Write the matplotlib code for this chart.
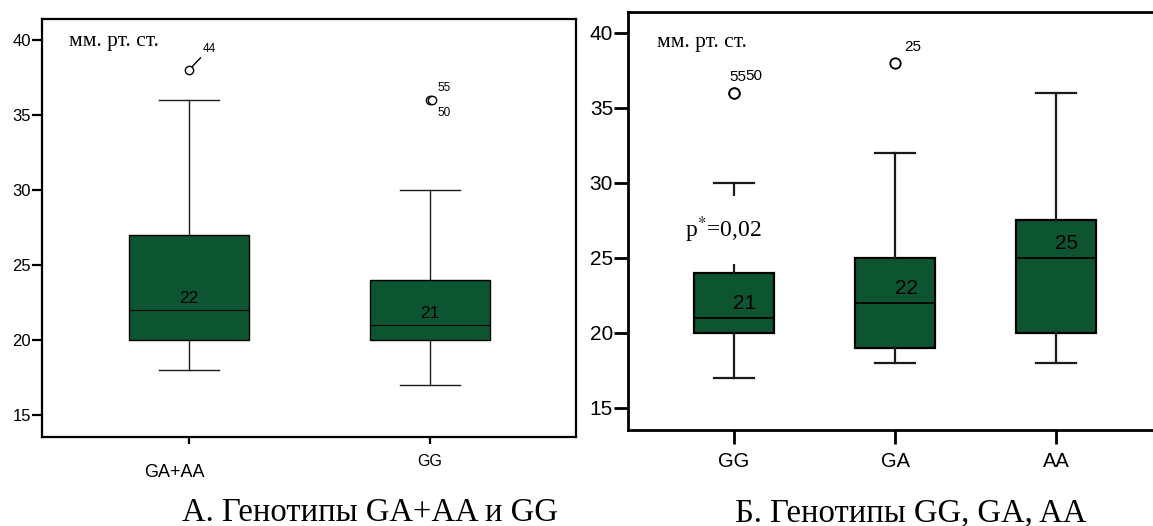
import matplotlib
matplotlib.use("Agg")
import matplotlib.pyplot as plt
from matplotlib.transforms import ScaledTranslation

SANS = "Liberation Sans"
SERIF = "Liberation Serif"
plt.rcParams["mathtext.fontset"] = "stix"

BOX_GREEN = "#0c5530"
WHISKER = "#1a1a1a"

# Panel A: GA+AA vs GG
a_groups = ["GA+AA", "GG"]
a_whislo = [18, 17]
a_q1 = [20, 20]
a_med = [22, 21]
a_q3 = [27, 24]
a_whishi = [36, 30]
a_outliers = [[38], [36, 36]]
a_outlier_ids = [["44"], ["55", "50"]]

# Panel B: GG, GA, AA
b_groups = ["GG", "GA", "AA"]
b_whislo = [17, 18, 18]
b_q1 = [20, 19, 20]
b_med = [21, 22, 25]
b_q3 = [24, 25, 27.5]
b_whishi = [30, 32, 36]
b_outliers = [[36, 36], [38], []]
b_outlier_ids = [["55", "50"], ["25"], []]

y_ticks = [15, 20, 25, 30, 35, 40]
y_lim = (13.53, 41.4)
unit_label = "мм. рт. ст."
p_label = "p$^{*}$=0,02"
caption_a = "А. Генотипы GA+AA и GG"
caption_b = "Б. Генотипы GG, GA, AA"

fig = plt.figure(figsize=(11.53, 5.26), dpi=100)
axA = fig.add_axes([0.0364, 0.1692, 0.4632, 0.7947])
axB = fig.add_axes([0.5447, 0.1825, 0.4631, 0.7947])


def px(dx, dy):
    """Offset transform in pixels (dy positive = up)."""
    return ScaledTranslation(dx / 100.0, dy / 100.0, fig.dpi_scale_trans)


def draw_boxes(ax, whislo, q1, med, q3, whishi, lw):
    stats = [dict(whislo=w0, q1=b0, med=m, q3=b1, whishi=w1, fliers=[])
             for w0, b0, m, b1, w1 in zip(whislo, q1, med, q3, whishi)]
    positions = list(range(1, len(stats) + 1))
    ax.bxp(stats, positions=positions, widths=0.5, capwidths=0.25,
           patch_artist=True, showfliers=False,
           boxprops=dict(facecolor=BOX_GREEN, edgecolor="black", linewidth=lw),
           medianprops=dict(color="black", linewidth=lw * 0.8),
           whiskerprops=dict(color=WHISKER, linewidth=lw),
           capprops=dict(color=WHISKER, linewidth=lw))
    return positions


def style_axes(ax, spine_lw, tick_len, tick_w, tick_fs):
    for s in ax.spines.values():
        s.set_linewidth(spine_lw)
        s.set_color("black")
    ax.set_ylim(*y_lim)
    ax.set_yticks(y_ticks)
    ax.tick_params(axis="y", direction="out", length=tick_len, width=tick_w,
                   pad=0.8, labelsize=tick_fs)
    for lab in ax.get_yticklabels():
        lab.set_fontfamily(SANS)


# ---------- Panel A ----------
posA = draw_boxes(axA, a_whislo, a_q1, a_med, a_q3, a_whishi, lw=1.0)
axA.set_xlim(0.39, 2.606)
style_axes(axA, spine_lw=1.6, tick_len=7, tick_w=1.6, tick_fs=12)
axA.set_xticks(posA, a_groups)
axA.tick_params(axis="x", direction="out", length=5, width=1.6, pad=7)
for lab, fs in zip(axA.get_xticklabels(), [13, 11.5]):
    lab.set_fontfamily(SANS)
    lab.set_fontsize(fs)
# the combined-genotype label sits a little lower and to the left
axA.get_xticklabels()[0].set_transform(
    axA.get_xticklabels()[0].get_transform() + px(-14.5, -10))

for x, m in zip(posA, a_med):
    axA.text(x, m + 0.78, str(m), ha="center", va="center",
             fontsize=12.5, family=SANS, zorder=5)

for x, vals in zip(posA, a_outliers):
    for k, v in enumerate(vals):
        axA.plot([x], [v], "o", ms=6, mfc="white", mec="black", mew=1.0,
                 transform=axA.transData + px(2.5 * k, 0), zorder=4)

# case numbers of outliers
axA.annotate(a_outlier_ids[0][0], xy=(posA[0], a_outliers[0][0]),
             xytext=(20, 21), textcoords="offset pixels", ha="center",
             va="center", fontsize=8.5, family=SANS,
             arrowprops=dict(arrowstyle="-", color="black", lw=1.0,
                             shrinkA=0, shrinkB=3))
axA.annotate(a_outlier_ids[1][0], xy=(posA[1], a_outliers[1][0]),
             xytext=(14, 12), textcoords="offset pixels", ha="center",
             va="center", fontsize=8.5, family=SANS)
axA.annotate(a_outlier_ids[1][1], xy=(posA[1], a_outliers[1][1]),
             xytext=(14, -13), textcoords="offset pixels", ha="center",
             va="center", fontsize=8.5, family=SANS)

axA.annotate(unit_label, xy=(0, 1), xycoords="axes fraction",
             xytext=(27, -23), textcoords="offset pixels", ha="left",
             va="center", fontsize=15.5, family=SERIF)

# ---------- Panel B ----------
posB = draw_boxes(axB, b_whislo, b_q1, b_med, b_q3, b_whishi, lw=1.6)
axB.set_xlim(0.342, 3.658)
style_axes(axB, spine_lw=2.0, tick_len=10, tick_w=2.0, tick_fs=15)
axB.set_xticks(posB, b_groups)
axB.tick_params(axis="x", direction="out", length=10, width=2.0, pad=6,
                labelsize=14.5)
for lab in axB.get_xticklabels():
    lab.set_fontfamily(SANS)

for x, m in zip(posB, b_med):
    axB.annotate(str(m), xy=(x, m + 0.95), xytext=(11, 0),
                 textcoords="offset pixels", ha="center", va="center",
                 fontsize=15, family=SANS, zorder=5)

for x, vals in zip(posB, b_outliers):
    for v in vals:
        axB.plot([x], [v], "o", ms=7.5, mfc="white", mec="black", mew=1.3,
                 zorder=4)

axB.annotate(b_outlier_ids[0][0], xy=(posB[0], b_outliers[0][0]),
             xytext=(4, 16), textcoords="offset pixels", ha="center",
             va="center", fontsize=11, family=SANS)
axB.annotate(b_outlier_ids[0][1], xy=(posB[0], b_outliers[0][1]),
             xytext=(20, 17), textcoords="offset pixels", ha="center",
             va="center", fontsize=11, family=SANS)
axB.annotate(b_outlier_ids[1][0], xy=(posB[1], b_outliers[1][0]),
             xytext=(18, 16), textcoords="offset pixels", ha="center",
             va="center", fontsize=11, family=SANS)

axB.annotate(unit_label, xy=(0, 1), xycoords="axes fraction",
             xytext=(29, -31), textcoords="offset pixels", ha="left",
             va="center", fontsize=15.5, family=SERIF)

axB.annotate(p_label, xy=(posB[0], 26.87), xytext=(-10.5, 0),
             textcoords="offset pixels", ha="center", va="center",
             fontsize=17, family=SERIF, zorder=6,
             bbox=dict(boxstyle="square,pad=0.8", facecolor="white",
                       edgecolor="none"))

# ---------- captions ----------
fig.text(370 / 1153, 1 - 513 / 526, caption_a, ha="center", va="center",
         fontsize=23.5, family=SERIF)
fig.text(911 / 1153, 1 - 513 / 526, caption_b, ha="center", va="center",
         fontsize=23.5, family=SERIF)

fig.savefig("out.png", dpi=100, facecolor="white")
